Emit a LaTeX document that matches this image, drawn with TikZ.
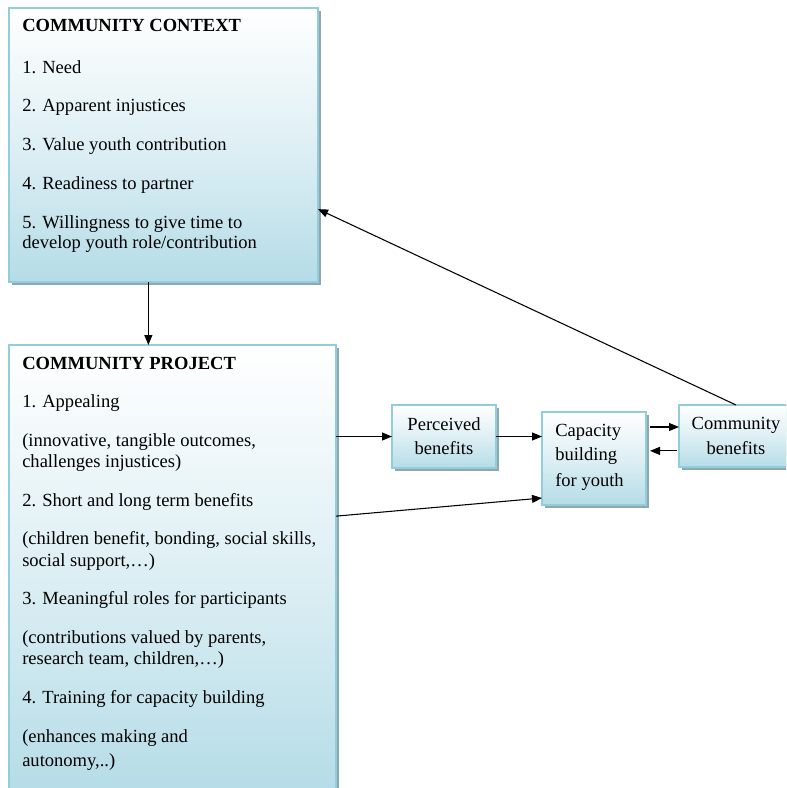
\documentclass[tikz,border=0pt]{standalone}
\usepackage{fontspec}
\setmainfont{Liberation Serif}
\usetikzlibrary{arrows.meta,calc,shadows}
\definecolor{boxtop}{RGB}{255,255,255}
\definecolor{boxbot}{RGB}{181,220,231}
\definecolor{boxline}{RGB}{146,205,220}
\definecolor{boxshadow}{RGB}{142,168,178}
\tikzset{
  panel/.style={draw=boxline, line width=1.1pt, top color=boxtop, bottom color=boxbot,
    middle color=boxbot!45, anchor=north west, inner sep=0pt, outer sep=0pt,
    drop shadow={shadow xshift=2pt, shadow yshift=-2pt, fill=boxshadow, opacity=1}},
  txt/.style={anchor=base west, inner sep=0pt, font=\fontsize{13.9}{15}\selectfont},
  ctxt/.style={anchor=base, inner sep=0pt, font=\fontsize{13.9}{15}\selectfont},
  hdr/.style={txt, font=\fontsize{13.9}{15}\selectfont\bfseries},
  arr/.style={-{Triangle[length=7.5pt,width=6pt]}, line width=0.8pt, black}
}
\begin{document}
\begin{tikzpicture}[x=0.75pt,y=-0.75pt]
\useasboundingbox (0,0) rectangle (786,788);
\clip (0,0) rectangle (786,788);
% boxes
\node[panel, minimum width=231.75pt, minimum height=205.5pt] (ctx) at (9,8) {};
\node[panel, minimum width=245.25pt, minimum height=336pt] (proj) at (9,345) {};
\node[panel, minimum width=78pt, minimum height=47.25pt] (perc) at (392,405) {};
\node[panel, minimum width=78pt, minimum height=69.75pt] (cap) at (542,412) {};
\node[panel, minimum width=85.5pt, minimum height=46.5pt] (com) at (679,405) {};
% context text
\node[hdr] (t0) at (22,32) {COMMUNITY CONTEXT};
\node[txt] (t1) at (22,74) {1. Need};
\node[txt] (t2) at (22,112) {2. Apparent injustices};
\node[txt] (t3) at (22,151) {3. Value youth contribution};
\node[txt] (t4) at (22,189) {4. Readiness to partner};
\node[txt] (t5) at (22,228) {5. Willingness to give time to};
\node[txt] (t6) at (22,248) {develop youth role/contribution};
% project text
\node[hdr] (p0) at (22,369) {COMMUNITY PROJECT};
\node[txt] (p1) at (22,407) {1. Appealing};
\node[txt] (p2) at (22,446) {(innovative, tangible outcomes,};
\node[txt] (p3) at (22,467) {challenges injustices)};
\node[txt] (p4) at (22,506) {2. Short and long term benefits};
\node[txt] (p5) at (22,544) {(children benefit, bonding, social skills,};
\node[txt] (p6) at (22,566) {social support,\dots)};
\node[txt] (p7) at (22,604) {3. Meaningful roles for participants};
\node[txt] (p8) at (22,643) {(contributions valued by parents,};
\node[txt] (p9) at (22,664) {research team, children,\dots)};
\node[txt] (p10) at (22,703) {4. Training for capacity building};
\node[txt] (p11) at (22,742) {(enhances making and};
\node[txt] (p12) at (22,766) {autonomy,..)};
% small boxes text
\node[ctxt] (pa) at (444,430) {Perceived};
\node[ctxt] (pb) at (444,454) {benefits};
\node[txt] (ca) at (555,436) {Capacity};
\node[txt] (cb) at (555,460) {building};
\node[txt] (cc) at (555,486) {for youth};
\node[ctxt] (ma) at (736,429) {Community};
\node[ctxt] (mb) at (736,454) {benefits};
% connectors
\coordinate (cs) at ($(ctx.south west)!0.451!(ctx.south east)$);
\draw[arr] (cs) -- (cs |- proj.north);
\draw[arr] (perc.west -| proj.east) -- (perc.west);
\draw[arr] (perc.east) -- (perc.east -| cap.west);
\coordinate (ps) at ($(proj.north east)!0.382!(proj.south east)$);
\coordinate (ce) at ($(cap.north west)!0.925!(cap.south west)$);
\draw[arr] (ps) -- (ce);
\coordinate (c1) at ($(com.north west)!0.355!(com.south west)$);
\coordinate (c2) at ($(com.north west)!0.74!(com.south west)$);
\draw[arr, shorten <=3pt] (c1 -| cap.east) -- (c1);
\draw[arr, shorten >=3pt, shorten <=1.5pt] (c2) -- (c2 -| cap.east);
\coordinate (ke) at ($(ctx.north east)!0.734!(ctx.south east)$);
\draw[arr] (com.north) -- (ke);
\end{tikzpicture}
\end{document}
